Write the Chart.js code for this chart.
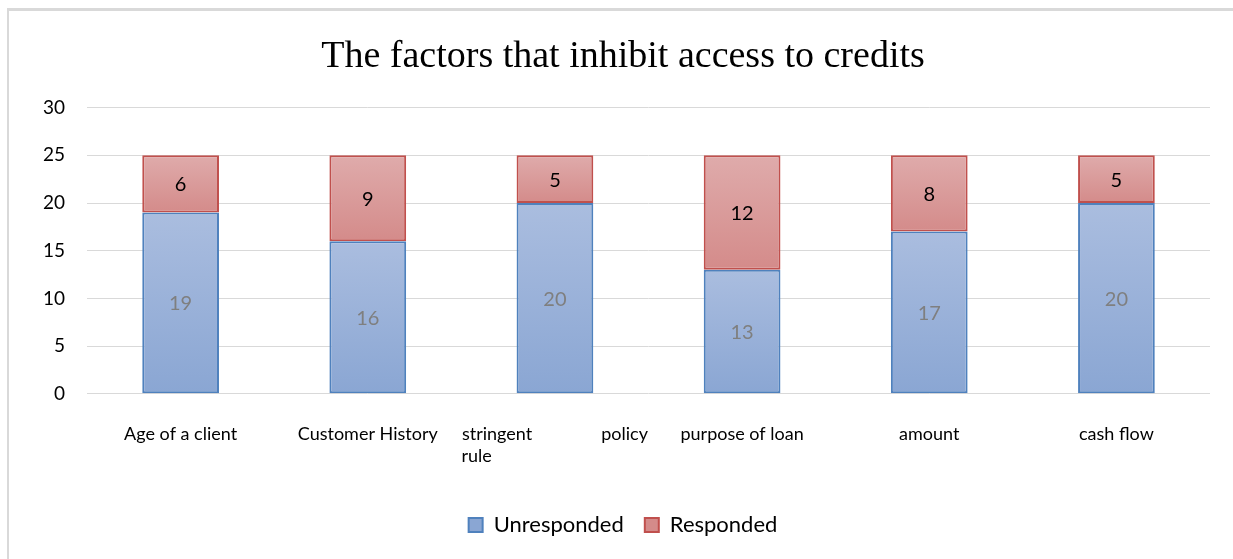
<!DOCTYPE html>
<html>
<head>
<meta charset="utf-8">
<script src="https://cdn.jsdelivr.net/npm/chart.js@4.4.1/dist/chart.umd.min.js"></script>
<style>
    html, body { margin: 0; padding: 0; background: #ffffff; }
    #wrap { position: relative; width: 1233px; height: 559px; overflow: hidden; }
    #frame { position: absolute; left: 7px; top: 8px; right: -5px; bottom: -5px;
             border-left: 2px solid #d9d9d9; border-top: 3px solid #d9d9d9; }
    canvas { position: absolute; left: 0; top: 0; }
</style>
</head>
<body>
<div id="wrap">
    <div id="frame"></div>
    <canvas id="myChart" width="1233" height="559"></canvas>
</div>
<script>
const categories = [
    'Age of a client',
    'Customer History',
    ['stringent               policy', 'rule                                  '],
    'purpose of loan',
    'amount',
    'cash flow'
];
const unresponded = [19, 16, 20, 13, 17, 20];
const responded = [6, 9, 5, 12, 8, 5];
const yTicks = [0, 5, 10, 15, 20, 25, 30];

const labelFont = 'Lato, "Noto Sans", sans-serif';

// light-to-dark fill per segment, like the office-style bars
function segmentFill(top, bottom, solid, stack){
    return function(ctx){
        if(ctx.type !== 'data'){
            return solid;
        }
        let chart = ctx.chart;
        let y = chart.scales.y;
        let i = ctx.dataIndex;
        let base = stack === 0 ? 0 : unresponded[i];
        let value = ctx.dataset.data[i];
        let y0 = y.getPixelForValue(base + value);
        let y1 = y.getPixelForValue(base);
        if(!isFinite(y0) || !isFinite(y1) || y0 === y1){
            return solid;
        }
        let g = chart.ctx.createLinearGradient(0, y0, 0, y1);
        g.addColorStop(0, top);
        g.addColorStop(1, bottom);
        return g;
    };
}

// value labels in the middle of every segment
const segmentLabels = {
    id: 'segmentLabels',
    afterDatasetsDraw: function(chart){
        let ctx = chart.ctx;
        ctx.save();
        ctx.textAlign = 'center';
        ctx.textBaseline = 'middle';
        ctx.font = '20px ' + labelFont;
        chart.data.datasets.forEach(function(ds, di){
            let meta = chart.getDatasetMeta(di);
            meta.data.forEach(function(bar, i){
                let p = bar.getProps(['x', 'y', 'base'], true);
                ctx.fillStyle = di === 0 ? '#7f7f7f' : '#000000';
                ctx.fillText(String(ds.data[i]), p.x, (p.y + p.base) / 2 + 1);
            });
        });
        ctx.restore();
    }
};

new Chart(document.getElementById('myChart'), {
    type: 'bar',
    data: {
        labels: categories,
        datasets: [{
            label: 'Unresponded',
            data: unresponded,
            backgroundColor: segmentFill('#aabddf', '#8aa6d3', '#9bb2da', 0),
            borderColor: '#4f81bd',
            borderWidth: 2,
            borderSkipped: false,
            categoryPercentage: 1,
            barPercentage: 0.41
        }, {
            label: 'Responded',
            data: responded,
            backgroundColor: segmentFill('#dfabab', '#d48b8a', '#d99a99', 1),
            borderColor: '#c0504d',
            borderWidth: 2,
            borderSkipped: false,
            categoryPercentage: 1,
            barPercentage: 0.41
        }]
    },
    options: {
        responsive: false,
        animation: false,
        layout: {
            padding: {left: 36, right: 23, top: 34, bottom: 13}
        },
        plugins: {
            title: {
                display: true,
                text: 'The factors that inhibit access to credits',
                color: '#000000',
                font: {family: '"Liberation Serif", "DejaVu Serif", serif', size: 38, weight: 'normal'},
                padding: {top: 0, bottom: 28}
            },
            legend: {
                position: 'bottom',
                labels: {
                    color: '#000000',
                    font: {family: labelFont, size: 22},
                    boxWidth: 14,
                    boxHeight: 14,
                    padding: 21
                }
            },
            tooltip: {enabled: false}
        },
        scales: {
            x: {
                stacked: true,
                grid: {display: false},
                border: {display: false},
                afterFit: function(axis){
                    axis.height += 4;
                },
                ticks: {
                    color: '#000000',
                    font: {family: labelFont, size: 18},
                    maxRotation: 0,
                    autoSkip: false,
                    padding: 22
                }
            },
            y: {
                stacked: true,
                min: 0,
                max: 30,
                afterBuildTicks: function(axis){
                    axis.ticks = yTicks.map(function(v){ return {value: v}; });
                },
                afterFit: function(axis){
                    // tick labels hang into the left padding
                    axis.width -= 15;
                },
                grid: {color: '#d9d9d9', lineWidth: 1, drawTicks: false},
                border: {display: false},
                ticks: {
                    color: '#000000',
                    font: {family: labelFont, size: 19},
                    padding: 22
                }
            }
        }
    },
    plugins: [segmentLabels]
});
</script>
</body>
</html>
